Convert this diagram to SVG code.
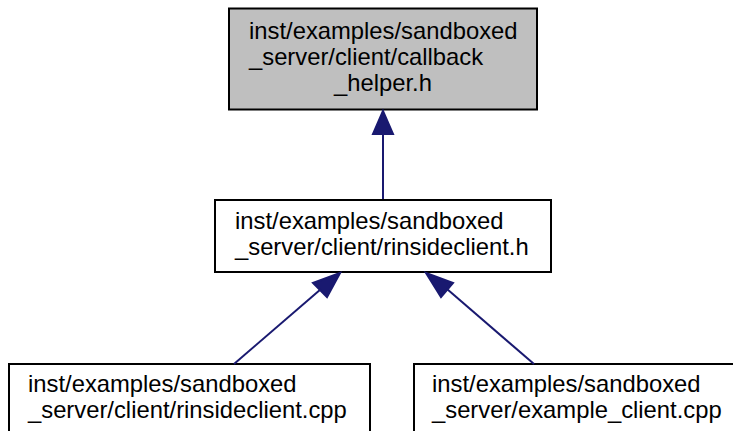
<svg xmlns="http://www.w3.org/2000/svg" width="733" height="431" viewBox="0 0 733 431">
<style>
.box{fill:#ffffff;stroke:#000000;stroke-width:2}
.hl{fill:#bfbfbf}
text{font-family:"Liberation Sans",Arial,Helvetica,sans-serif;font-size:23.8px;fill:#000000}
.edge{stroke:#191970;stroke-width:2;fill:none}
.head{fill:#191970;stroke:#191970;stroke-width:2}
</style>
<rect x="0" y="0" width="733" height="431" fill="#ffffff"/>
<g id="node1">
<rect class="box hl" x="229" y="8.5" width="308" height="101"/>
<text x="249" y="38.5">inst/examples/sandboxed</text>
<text x="249" y="64.5">_server/client/callback</text>
<text x="383" y="90.5" text-anchor="middle">_helper.h</text>
</g>
<g id="node2">
<rect class="box" x="215" y="200" width="336" height="72"/>
<text x="235" y="228.5">inst/examples/sandboxed</text>
<text x="235" y="254.5">_server/client/rinsideclient.h</text>
</g>
<g id="node3">
<rect class="box" x="9" y="364" width="361" height="80"/>
<text x="28" y="392">inst/examples/sandboxed</text>
<text x="28" y="418">_server/client/rinsideclient.cpp</text>
</g>
<g id="node4">
<rect class="box" x="414" y="364" width="330" height="80"/>
<text x="432" y="392">inst/examples/sandboxed</text>
<text x="432" y="418">_server/example_client.cpp</text>
</g>
<g id="edges">
<line class="edge" x1="383" y1="199" x2="383" y2="133"/>
<polygon class="head" points="383,111 373,134 393,134"/>
<line class="edge" x1="234" y1="364" x2="321" y2="289"/>
<polygon class="head" points="340,273 313,283 327,297"/>
<line class="edge" x1="534" y1="364" x2="447" y2="289"/>
<polygon class="head" points="426,273 453,283 441,297"/>
</g>
</svg>
